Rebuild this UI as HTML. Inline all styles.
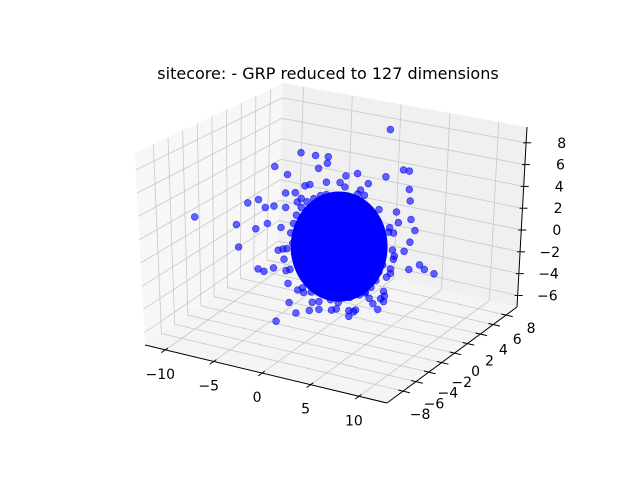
<!DOCTYPE html>
<html><head><meta charset="utf-8"><style>
html,body{margin:0;padding:0;background:#fff}
svg{display:block}
text{font-family:"DejaVu Sans","Liberation Sans",sans-serif;fill:#000}
</style></head><body>
<svg id="chart" width="640" height="480" viewBox="0 0 640 480" xmlns="http://www.w3.org/2000/svg">
<rect x="0" y="0" width="640" height="480" fill="#fff"/>
<g id="panes"></g>
<g id="grid"></g>
<g id="axes"></g>
<g id="points"></g>
<text x="328" y="79" font-size="16" text-anchor="middle">sitecore: - GRP reduced to 127 dimensions</text>
</svg>
<script>
// ---- data ----
const xTicks = [-10, -5, 0, 5, 10];
const yTicks = [-8, -6, -4, -2, 0, 2, 4, 6, 8];
const zTicks = [-6, -4, -2, 0, 2, 4, 6, 8];
const xLabels = ["\u221210", "\u22125", "0", "5", "10"];
const yLabels = ["\u22128", "\u22126", "\u22124", "\u22122", "0", "2", "4", "6", "8"];
const zLabels = ["\u22126", "\u22124", "\u22122", "0", "2", "4", "6", "8"];
const xValues = [1.7,-11.1,-3.6,-3.0,-1.5,-0.2,-5.7,-4.4,-0.3,-1.2,-8.5,-7.4,-9.7,-9.5,-7.5,-6.9,-4.6,-6.7,-5.8,-6.5,-7.7,7.5,8.1,8.1,8.2,8.3,8.7,8.2,9.2,9.7,10.7,8.1,-4.3,-3.6,-2.2,-1.2,1.9,2.4,3.6,5.2,5.5,5.7,3.9,1.6,2.8,6.8,7.0,6.5,7.6,6.5,6.2,-5.4,-5.9,-4.6,-4.4,-3.4,-2.8,0.0,0.8,
0.9,2.5,3.8,4.8,5.3,5.0,4.2,3.0,1.2,-0.8,-2.2,-3.3,-3.9,-3.8,-3.0,-1.7,-0.4,1.8,3.2,4.5,5.5,5.4,4.7,3.6,2.0,0.2,-1.5,-2.8,-3.7,-4.1,-3.5,-2.4,-1.0,4.0,-2.0,5.8,-4.5,2.8,-3.0,6.0,
1.5,3.5,5.0,6.1,6.4,6.2,5.5,4.4,2.6,0.6,-1.2,-2.9,-4.2,-4.9,-5.1,-4.6,-3.6,-2.1,-0.4,1.0,-4.8,6.6,-1.9,4.9,0.1,3.1,-3.4,5.6,-2.6,1.9];
const yValues = [6,-4,-3,0,0,0,0,0,0,0,0,0,0,0,0,0,0,0,0,0,0,0,0,0,0,0,0,0,0,0,0,0,0,0,0,0,0,0,0,0,0,0,0,0,0,0,0,0,0,0,0,0,0,0,0,0,0,0,0,
0,0,0,0,0,0,0,0,0,0,0,0,0,0,0,0,0,0,0,0,0,0,0,0,0,0,0,0,0,0,0,0,0,0,0,0,0,0,0,0,
0,0,0,0,0,0,0,0,0,0,0,0,0,0,0,0,0,0,0,0,0,0,0,0,0,0,0,0,0,0];
const zValues = [8.6,1.9,-6.3,7.7,7.7,7.8,6.0,5.5,7.2,6.6,2.2,2.7,0.0,-2.0,-3.6,-3.7,3.8,2.1,2.4,0.7,0.0,7.9,7.9,6.3,5.3,3.7,2.8,1.7,-0.1,-0.4,-0.6,-0.7,-6.0,-6.8,-6.3,-6.0,-6.0,-5.5,-3.5,-3.8,-4.0,7.0,6.1,6.4,6.8,4.1,3.2,2.2,0.8,-0.1,-1.0,-1.5,-3.2,-3.2,-4.3,-4.7,-4.8,-4.9,-5.0,
4.5,4.1,3.2,1.8,0.2,-1.5,-3.0,-3.9,-4.4,-4.2,-3.6,-2.3,-0.6,1.2,2.8,3.8,4.4,4.6,3.8,2.6,1.0,-0.8,-2.3,-3.6,-4.3,-4.5,-4.0,-3.0,-1.5,0.3,2.0,3.4,4.2,-4.0,-4.6,-1.8,-1.2,5.0,3.6,2.2,
5.4,5.0,4.0,2.6,0.7,-1.4,-3.1,-4.4,-5.3,-5.6,-5.3,-4.4,-3.0,-1.3,0.6,2.5,4.0,5.0,5.5,5.7,-2.2,0.2,-5.5,-4.8,-5.8,5.4,3.2,-3.5,4.8,-5.5];
const coreCenter = [0.9, 0, 0.0];
const coreRadius = [5.0, 4.9];

// ---- projection (trilinear between box corners) ----
const XR=[-12.1,12.9], YR=[-10.5,9.7], ZR=[-7.06,9.45];
const BOT={"00":[145,345],"10":[387,403],"11":[517,307],"01":[278,252]};
const TOP={"00":[135,153],"10":[380,200],"11":[527,127],"01":[283,83]};
function bil(C,u,v){
  const r=[];
  for(let k=0;k<2;k++) r.push(C["00"][k]*(1-u)*(1-v)+C["10"][k]*u*(1-v)+C["11"][k]*u*v+C["01"][k]*(1-u)*v);
  return r;
}
function P(x,y,z){
  const u=(x-XR[0])/(XR[1]-XR[0]), v=(y-YR[0])/(YR[1]-YR[0]), w=(z-ZR[0])/(ZR[1]-ZR[0]);
  const b=bil(BOT,u,v), t=bil(TOP,u,v);
  return [b[0]+(t[0]-b[0])*w, b[1]+(t[1]-b[1])*w];
}
const NS="http://www.w3.org/2000/svg";
function mk(tag,attrs,parent){const e=document.createElementNS(NS,tag);for(const k in attrs)e.setAttribute(k,attrs[k]);parent.appendChild(e);return e;}
function pts(a){return a.map(p=>p[0].toFixed(1)+","+p[1].toFixed(1)).join(" ");}
function line(a,b,stroke,w,parent,name){const e=mk("line",{x1:a[0],y1:a[1],x2:b[0],y2:b[1],stroke:stroke,"stroke-width":w},parent);return e;}

const gP=document.getElementById("panes"), gG=document.getElementById("grid"), gA=document.getElementById("axes"), gPt=document.getElementById("points");
let e;
e=mk("polygon",{points:pts([P(XR[0],YR[0],ZR[0]),P(XR[0],YR[1],ZR[0]),P(XR[0],YR[1],ZR[1]),P(XR[0],YR[0],ZR[1])]),fill:"#f7f7f7"},gP);


e=mk("polygon",{points:pts([P(XR[0],YR[1],ZR[0]),P(XR[1],YR[1],ZR[0]),P(XR[1],YR[1],ZR[1]),P(XR[0],YR[1],ZR[1])]),fill:"#f0f0f0"},gP);


e=mk("polygon",{points:pts([P(XR[0],YR[0],ZR[0]),P(XR[1],YR[0],ZR[0]),P(XR[1],YR[1],ZR[0]),P(XR[0],YR[1],ZR[0])]),fill:"#f4f4f4"},gP);



const GC="#c8c8c8";
xTicks.forEach(x=>{
  line(P(x,YR[0],ZR[0]),P(x,YR[1],ZR[0]),GC,0.8,gG,'x-grid-floor');
  line(P(x,YR[1],ZR[0]),P(x,YR[1],ZR[1]),GC,0.8,gG,'x-grid-back');
});
yTicks.forEach(y=>{
  line(P(XR[0],y,ZR[0]),P(XR[1],y,ZR[0]),GC,0.8,gG,'y-grid-floor');
  line(P(XR[0],y,ZR[0]),P(XR[0],y,ZR[1]),GC,0.8,gG,'y-grid-left');
});
zTicks.forEach(z=>{
  line(P(XR[0],YR[0],z),P(XR[0],YR[1],z),GC,0.8,gG,'z-grid-left');
  line(P(XR[0],YR[1],z),P(XR[1],YR[1],z),GC,0.8,gG,'z-grid-back');
});

line(P(XR[0],YR[0],ZR[0]),P(XR[1],YR[0],ZR[0]),"#000",1,gA,'x-axis-line');
line(P(XR[1],YR[0],ZR[0]),P(XR[1],YR[1],ZR[0]),"#000",1,gA,'y-axis-line');
line(P(XR[1],YR[1],ZR[0]),P(XR[1],YR[1],ZR[1]),"#000",1,gA,'z-axis-line');

xTicks.forEach((x,i)=>{
  const a=P(x,YR[0]+0.4,ZR[0]), b=P(x,YR[0]-0.6,ZR[0]);
  line(a,b,"#000",1,gA,'x-tick');
  const p=P(x,YR[0],ZR[0]);
  const t=mk("text",{x:p[0]-5,y:p[1]+29,"font-size":"14","text-anchor":"middle"},gA);
  t.textContent=xLabels[i];
  
  
});
yTicks.forEach((y,i)=>{
  const a=P(XR[1]-0.5,y,ZR[0]), b=P(XR[1]+0.7,y,ZR[0]);
  line(a,b,"#000",1,gA,'y-tick');
  const p=P(XR[1],y,ZR[0]);
  const f=(y-yTicks[0])/(yTicks[yTicks.length-1]-yTicks[0]);
  const t=mk("text",{x:p[0]+17+8*f,y:p[1]+28-10*f,"font-size":"14","text-anchor":"middle"},gA);
  t.textContent=yLabels[i];
  
  
});
zTicks.forEach((z,i)=>{
  const p=P(XR[1],YR[1],z);
  line([p[0]-3,p[1]],[p[0]+5,p[1]],"#000",1,gA,'z-tick');
  const t=mk("text",{x:p[0]+40,y:p[1]+5,"font-size":"14","text-anchor":"end"},gA);
  t.textContent=zLabels[i];
  
  
});

// dense core of the cluster
const cc=P(coreCenter[0],coreCenter[1],coreCenter[2]);
const cx1=P(coreCenter[0]+coreRadius[0],coreCenter[1],coreCenter[2]);
const cz1=P(coreCenter[0],coreCenter[1],coreCenter[2]+coreRadius[1]);
e=mk("ellipse",{cx:cc[0],cy:cc[1],rx:Math.abs(cx1[0]-cc[0]),ry:Math.abs(cz1[1]-cc[1]),fill:"#0000ff"},gPt);



for(let i=0;i<xValues.length;i++){
  const p=P(xValues[i],yValues[i],zValues[i]);
  const c=mk("circle",{cx:p[0].toFixed(1),cy:p[1].toFixed(1),r:3.4,fill:"#0000ff","fill-opacity":0.6,stroke:"#0000ff","stroke-opacity":0.6,"stroke-width":0.8},gPt);
  
  
}
</script>
</body></html>
